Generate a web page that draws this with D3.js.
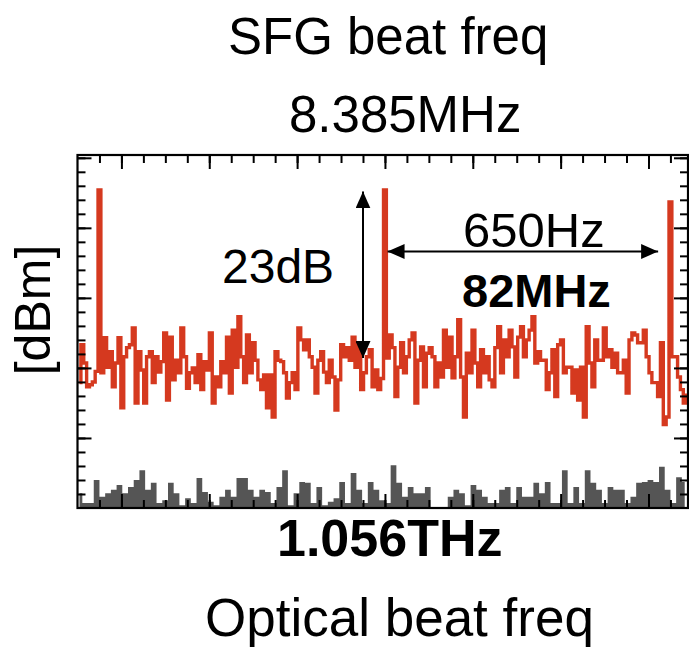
<!DOCTYPE html>
<html>
<head>
<meta charset="utf-8">
<script src="https://cdn.jsdelivr.net/npm/d3@7"></script>
<style>
  html, body { margin: 0; padding: 0; background: #fff; }
  svg text { font-family: "Liberation Sans", Arial, sans-serif; fill: #000; }
</style>
</head>
<body>
<svg id="chart" width="689" height="651"></svg>
<script>
// ---- data (frequency offset in Hz, power in dBm) ----
const redStartHz = -695.5, redStepHz = 6.5;
const sfgTrace = [
  -62.1,-56.7,-59.3,-62.7,-62.4,-62.0,-60.5,-34.6,-60.7,-55.7,
  -59.9,-57.7,-62.7,-59.3,-55.7,-65.7,-58.4,-57.1,-56.7,-54.3,
  -65.0,-57.7,-60.3,-65.0,-58.4,-57.7,-62.1,-58.4,-60.6,-59.1,
  -55.0,-64.6,-55.6,-61.7,-58.9,-60.7,-54.3,-58.4,-62.9,-60.7,
  -60.0,-62.1,-58.1,-63.1,-59.1,-60.3,-55.0,-65.0,-61.3,-62.7,
  -59.1,-60.7,-55.6,-63.6,-54.6,-59.9,-52.7,-58.4,-62.1,-55.3,
  -60.7,-56.4,-58.9,-61.7,-63.1,-61.0,-65.7,-61.0,-67.0,-57.7,
  -58.9,-59.1,-60.7,-64.3,-62.1,-60.7,-63.1,-54.3,-56.0,-57.4,
  -56.0,-58.4,-59.9,-63.6,-58.9,-57.7,-60.6,-62.1,-58.9,-61.3,
  -66.0,-61.7,-56.7,-58.4,-57.1,-58.9,-55.6,-59.9,-56.4,-63.1,
  -60.7,-58.4,-57.4,-62.7,-60.3,-63.1,-61.5,-34.6,-58.6,-55.3,
  -57.1,-64.1,-59.9,-56.4,-60.7,-58.4,-56.0,-55.0,-65.0,-58.9,
  -57.0,-62.7,-57.9,-57.1,-58.4,-62.7,-59.3,-61.3,-54.6,-59.9,
  -55.6,-61.4,-58.4,-53.1,-61.3,-67.0,-57.9,-60.7,-54.6,-59.3,
  -62.7,-57.4,-60.7,-58.4,-61.7,-62.7,-57.1,-54.1,-60.7,-56.0,
  -58.4,-54.6,-57.0,-61.3,-55.6,-54.1,-58.4,-56.0,-54.6,-52.7,
  -59.3,-57.7,-58.9,-58.9,-63.1,-60.7,-57.4,-64.1,-56.7,-56.0,
  -60.7,-59.9,-59.9,-63.6,-60.3,-64.6,-59.9,-67.0,-54.1,-59.3,
  -62.7,-56.0,-58.9,-58.9,-54.3,-58.4,-57.4,-59.9,-57.9,-60.7,
  -60.7,-58.9,-63.6,-56.0,-55.0,-55.3,-56.4,-56.4,-54.6,-58.4,
  -60.7,-62.1,-62.1,-64.1,-56.4,-68.1,-67.0,-36.3,-58.4,-58.4,
  -61.3,-63.1,-65.0,-63.9
];
const grayStartHz = -695.5, grayStepHz = 13;
const noiseFloor = [
  -77.9,-79.3,-79.3,-76.0,-78.4,-77.9,-77.4,-76.7,-77.9,-77.0,
  -76.0,-74.6,-77.4,-76.4,-79.3,-78.9,-76.4,-77.9,-79.6,-78.6,
  -79.3,-75.7,-77.7,-79.1,-79.6,-78.4,-77.4,-78.4,-75.7,-75.7,
  -77.4,-78.4,-77.4,-77.7,-79.3,-77.0,-74.6,-79.6,-77.9,-76.3,
  -76.4,-79.3,-77.0,-79.6,-79.1,-78.6,-76.3,-79.3,-75.0,-77.4,
  -79.3,-76.3,-77.4,-78.9,-79.3,-73.9,-76.4,-78.4,-77.0,-77.9,
  -77.9,-77.0,-79.9,-79.9,-79.9,-78.4,-77.4,-77.9,-79.6,-76.7,
  -77.4,-78.4,-79.3,-79.3,-77.4,-77.0,-79.3,-77.0,-78.4,-78.4,
  -76.4,-77.9,-76.3,-79.3,-79.3,-74.6,-79.3,-77.0,-79.3,-74.6,
  -76.4,-77.4,-79.3,-77.0,-77.4,-77.4,-79.3,-78.4,-76.4,-76.3,
  -76.0,-76.3,-74.1,-77.4,-79.3,-75.6,-76.3
];
const xDomain = [-700, 690];
const yDomain = [-80, -29.6];
const minorXStep = 50, majorXStep = 200;
const minorYStep = 2, majorYStep = 10;
const labels = {
  top1: "SFG beat freq", top2: "8.385MHz", yLabel: "[dBm]",
  dB: "23dB", hz: "650Hz", mhz: "82MHz", thz: "1.056THz", bottom: "Optical beat freq"
};

// ---- layout ----
const svg = d3.select("#chart");
const L = 77.5, R = 688, T = 155, B = 508;
const x = d3.scaleLinear().domain(xDomain).range([L, R]);
const y = d3.scaleLinear().domain(yDomain).range([B, T]);

const red = sfgTrace.map((v, i) => ({ f: redStartHz + i * redStepHz, v }));
const gray = noiseFloor.map((v, i) => ({ f: grayStartHz + i * grayStepHz, v }));

svg.append("clipPath").attr("id", "clip")
  .append("rect").attr("x", L).attr("y", T).attr("width", R - L).attr("height", B - T);

const plot = svg.append("g").attr("clip-path", "url(#clip)");

plot.append("path").datum(gray)
  .attr("fill", "#555555")
  .attr("d", d3.area().curve(d3.curveStep)
    .x(d => x(d.f)).y0(y(yDomain[0])).y1(d => y(d.v)));

plot.append("path").datum(red)
  .attr("fill", "none")
  .attr("stroke", "#d5391f")
  .attr("stroke-width", 3.4)
  .attr("stroke-linejoin", "miter")
  .attr("d", d3.line().curve(d3.curveStep).x(d => x(d.f)).y(d => y(d.v)));

// ---- ticks ----
const xMinor = d3.range(-650, 690, minorXStep);
const xMajor = xMinor.filter(v => v % majorXStep === 0);
const yMinor = d3.range(-78, -29.6, minorYStep);
const yMajor = yMinor.filter(v => v % majorYStep === 0);

function addAxis(gen, values, size, tx, ty) {
  const g = svg.append("g").attr("transform", `translate(${tx},${ty})`)
    .call(gen.tickValues(values).tickSize(-size).tickFormat(""));
  g.select(".domain").remove();
  g.selectAll(".tick line").attr("stroke", "#000").attr("stroke-width", 2);
}
addAxis(d3.axisTop(x), xMinor, 8, 0, T);
addAxis(d3.axisTop(x), xMajor, 14, 0, T);
addAxis(d3.axisBottom(x), xMinor, 8, 0, B);
addAxis(d3.axisBottom(x), xMajor, 14, 0, B);
addAxis(d3.axisLeft(y), yMinor, 8, L, 0);
addAxis(d3.axisLeft(y), yMajor, 14, L, 0);
addAxis(d3.axisRight(y), yMinor, 8, R, 0);
addAxis(d3.axisRight(y), yMajor, 14, R, 0);

svg.append("rect").attr("x", L).attr("y", T).attr("width", R - L).attr("height", B - T)
  .attr("fill", "none").attr("stroke", "#000").attr("stroke-width", 2.2);

// ---- annotations ----
const defs = svg.append("defs");
defs.append("marker").attr("id", "ah")
  .attr("viewBox", "0 0 17 15").attr("refX", 17).attr("refY", 7.5)
  .attr("markerWidth", 17).attr("markerHeight", 15)
  .attr("markerUnits", "userSpaceOnUse").attr("orient", "auto-start-reverse")
  .append("path").attr("d", "M0,0 L17,7.5 L0,15 Z").attr("fill", "#000");

// vertical 23dB arrow: from baseline level to peak level
svg.append("line")
  .attr("x1", 363).attr("x2", 363)
  .attr("y1", y(-34.8)).attr("y2", y(-58.6))
  .attr("stroke", "#000").attr("stroke-width", 2)
  .attr("marker-start", "url(#ah)").attr("marker-end", "url(#ah)");

// horizontal 650Hz arrow between peaks
svg.append("line")
  .attr("x1", x(6)).attr("x2", x(622))
  .attr("y1", 251.5).attr("y2", 251.5)
  .attr("stroke", "#000").attr("stroke-width", 2)
  .attr("marker-start", "url(#ah)").attr("marker-end", "url(#ah)");

function txt(s, xx, yy, size, weight) {
  return svg.append("text").attr("x", xx).attr("y", yy)
    .attr("font-size", size).attr("font-weight", weight || "normal").text(s);
}
txt(labels.top1, 228, 54, 51);
txt(labels.top2, 289, 132, 51);
txt(labels.dB, 222, 283, 48);
txt(labels.hz, 463, 247, 49);
txt(labels.mhz, 462, 307, 47, "bold");
txt(labels.thz, 277, 556, 52, "bold");
txt(labels.bottom, 205, 636, 53);
svg.append("text").attr("transform", "translate(50,310) rotate(-90)")
  .attr("text-anchor", "middle").attr("font-size", 50).text(labels.yLabel);
</script>
</body>
</html>
